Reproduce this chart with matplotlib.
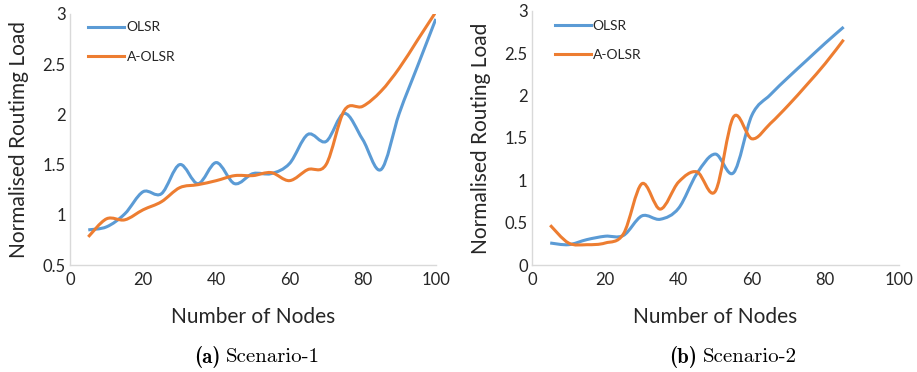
import matplotlib
matplotlib.use("Agg")
import matplotlib.pyplot as plt
import numpy as np
from matplotlib.path import Path
from matplotlib.patches import PathPatch
from matplotlib.lines import Line2D

plt.rcParams['font.family'] = ['Lato', 'DejaVu Sans']

# Scenario-1
nodes_1 = [5, 10, 15, 20, 25, 30, 35, 40, 45, 50, 55, 60, 65, 70, 75, 80, 85, 90, 95, 100]
olsr_1 = [0.85, 0.88, 1.01, 1.23, 1.21, 1.50, 1.31, 1.52, 1.31, 1.41,
          1.41, 1.51, 1.80, 1.73, 2.01, 1.75, 1.45, 2.01, 2.48, 2.95]
aolsr_1 = [0.78, 0.96, 0.95, 1.05, 1.13, 1.27, 1.30, 1.34, 1.39, 1.39,
           1.42, 1.34, 1.45, 1.50, 2.04, 2.08, 2.23, 2.46, 2.74, 3.02]

# Scenario-2
nodes_2 = [5, 10, 15, 20, 25, 30, 35, 40, 45, 50, 55, 60, 65, 70, 75, 80, 85]
olsr_2 = [0.26, 0.24, 0.30, 0.34, 0.35, 0.58, 0.54, 0.67, 1.08, 1.31,
          1.09, 1.77, 2.01, 2.22, 2.42, 2.62, 2.81]
aolsr_2 = [0.47, 0.26, 0.24, 0.26, 0.37, 0.96, 0.66, 0.98, 1.10, 0.87,
           1.75, 1.49, 1.67, 1.89, 2.13, 2.38, 2.66]

blue = '#5B9BD5'
orange = '#ED7D31'
txt = '#262626'
grid_c = '#d9d9d9'


def smooth_path(x, y):
    # smoothed line like a spreadsheet chart: cubic bezier through every point
    p = np.column_stack([x, y]).astype(float)
    ext = np.vstack([p[0], p, p[-1]])
    verts = [p[0]]
    codes = [Path.MOVETO]
    for i in range(len(p) - 1):
        p0, p1, p2, p3 = ext[i], ext[i + 1], ext[i + 2], ext[i + 3]
        c1 = p1 + (p2 - p0) / 6.0
        c2 = p2 - (p3 - p1) / 6.0
        verts += [c1, c2, p2]
        codes += [Path.CURVE4] * 3
    return Path(verts, codes)


def panel(ax, x, s1, s2, ylim, yticks, ylabel, leg_anchor):
    ax.add_patch(PathPatch(smooth_path(x, s1), fill=False, edgecolor=blue, lw=2.2))
    ax.add_patch(PathPatch(smooth_path(x, s2), fill=False, edgecolor=orange, lw=2.2))
    ax.set_xlim(0, 100)
    ax.set_ylim(*ylim)
    ax.set_xticks([0, 20, 40, 60, 80, 100])
    ax.set_yticks(yticks)
    ax.set_yticklabels([('%g' % v) for v in yticks])
    for sp in ['top', 'right']:
        ax.spines[sp].set_visible(False)
    for sp in ['left', 'bottom']:
        ax.spines[sp].set_color(grid_c)
        ax.spines[sp].set_linewidth(1.0)
    ax.tick_params(length=0, labelsize=12, colors=txt, pad=3)
    ax.tick_params(axis='x', pad=5)
    ax.set_xlabel('Number of Nodes', fontsize=15, color=txt, labelpad=14)
    ax.set_ylabel(ylabel, fontsize=15, color=txt, labelpad=10)
    handles = [Line2D([], [], color=blue, lw=2.2), Line2D([], [], color=orange, lw=2.2)]
    ax.legend(handles, ['OLSR', 'A-OLSR'], loc='upper left', bbox_to_anchor=leg_anchor,
              frameon=False, fontsize=10, handlelength=2.6, handletextpad=0.15,
              labelspacing=1.25, borderpad=0, borderaxespad=0, labelcolor=txt)


fig = plt.figure(figsize=(9.17, 3.72), dpi=100)
ax1 = fig.add_axes([0.0763, 0.2876, 0.399, 0.675])
ax2 = fig.add_axes([0.580, 0.2876, 0.400, 0.683])

panel(ax1, nodes_1, olsr_1, aolsr_1, (0.5, 3), [0.5, 1, 1.5, 2, 2.5, 3],
      'Normalised Routimg Load', (0.05, 0.97))
panel(ax2, nodes_2, olsr_2, aolsr_2, (0, 3), [0, 0.5, 1, 1.5, 2, 2.5, 3],
      'Normalised Routing Load', (0.062, 0.965))

for xc, tag, name in [(0.243, '(a)', 'Scenario-1'), (0.763, '(b)', 'Scenario-2')]:
    fig.text(xc - 0.003, 0.04, tag, family='cmb10', fontsize=15, ha='right', va='center')
    fig.text(xc + 0.003, 0.04, name, family='cmr10', fontsize=15, ha='left', va='center')

fig.savefig('out.png', dpi=100)
